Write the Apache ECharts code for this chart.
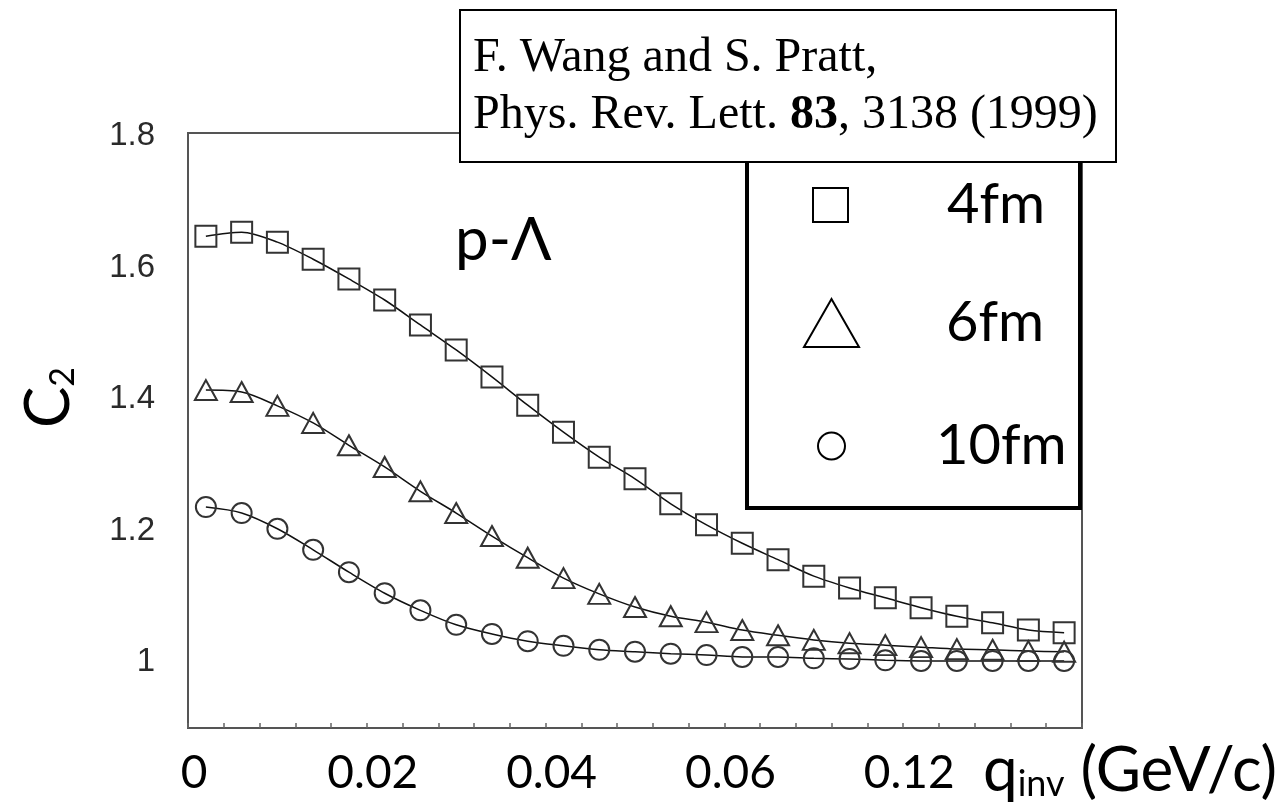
<!DOCTYPE html>
<html><head><meta charset="utf-8">
<script src="https://cdn.jsdelivr.net/npm/echarts@6/dist/echarts.min.js"></script>
<style>html,body{margin:0;padding:0;background:#fff}#c{width:1283px;height:804px}</style>
</head><body><div id="c"></div>
<script>
// q_inv (GeV/c) of each point
const qinv = [0.0025,0.0075,0.0125,0.0175,0.0225,0.0275,0.0325,0.0375,0.0425,0.0475,0.0525,0.0575,0.0625,0.0675,0.0725,0.0775,0.0825,0.0875,0.0925,0.0975,0.1025,0.1075,0.1125,0.1175,0.1225];
// C2 values
const c2_4fm  = [1.648,1.654,1.639,1.613,1.583,1.551,1.513,1.475,1.434,1.391,1.350,1.312,1.279,1.241,1.209,1.181,1.156,1.131,1.113,1.098,1.083,1.070,1.060,1.049,1.045];
const c2_6fm  = [1.414,1.411,1.390,1.364,1.330,1.297,1.260,1.227,1.192,1.159,1.128,1.104,1.084,1.070,1.061,1.049,1.041,1.034,1.029,1.026,1.023,1.020,1.019,1.017,1.016];
const c2_10fm = [1.236,1.227,1.203,1.171,1.137,1.105,1.079,1.057,1.043,1.032,1.025,1.019,1.016,1.013,1.011,1.008,1.008,1.006,1.005,1.003,1.002,1.002,1.002,1.002,1.002];
const seriesNames = ['4fm','6fm','10fm'];
const yTickValues = [1, 1.2, 1.4, 1.6, 1.8];
const xTickLabels = ['0','0.02','0.04','0.06','0.12'];
const xTickValues = [0, 0.025, 0.05, 0.075, 0.1];

const pairs = arr => qinv.map((x, i) => [x, arr[i]]);
const GILL = 'Lato';
const symStyle = {color: 'transparent', borderColor: '#333', borderWidth: 2};
const lineSt = {color: '#111', width: 1.5};

const chart = echarts.init(document.getElementById('c'), null, {renderer: 'canvas'});
chart.setOption({
  backgroundColor: '#fff',
  animation: false,
  grid: {left: 188, right: 201, top: 133, bottom: 76, show: true, borderColor: '#555', borderWidth: 2, backgroundColor: 'transparent'},
  title: {
    text: 'F. Wang and S. Pratt,\nPhys. Rev. Lett. {b|83}, 3138 (1999)',
    left: 460, top: 10,
    padding: [20, 18, 18, 13],
    borderColor: '#000', borderWidth: 2, backgroundColor: '#fff',
    z: 10,
    textStyle: {fontFamily: 'Liberation Serif', fontSize: 48, fontWeight: 'normal', color: '#000', lineHeight: 57,
      rich: {b: {fontFamily: 'Liberation Serif', fontSize: 48, fontWeight: 'bold', color: '#000', lineHeight: 57}}}
  },
  xAxis: {
    type: 'value', min: 0, max: 0.125, interval: 0.005,
    axisLine: {show: false}, splitLine: {show: false},
    axisTick: {show: true, inside: true, length: 5, lineStyle: {color: '#666', width: 1.5}},
    axisLabel: {
      customValues: xTickValues,
      formatter: v => { const i = xTickValues.findIndex(t => Math.abs(t - v) < 1e-9); return i >= 0 ? xTickLabels[i] : ''; },
      margin: 22, fontFamily: GILL, fontSize: 46, color: '#000', padding: [0, 0, 0, 12]
    },
    name: '{a|q}{s|inv}{a| (GeV/c)}',
    nameLocation: 'end', nameGap: 195,
    nameTextStyle: {align: 'right', verticalAlign: 'middle', padding: [80, 0, 0, 0],
      rich: {a: {fontFamily: GILL, fontSize: 62, color: '#000', lineHeight: 68, verticalAlign: 'bottom'},
             s: {fontFamily: GILL, fontSize: 36, color: '#000', lineHeight: 68, verticalAlign: 'bottom'}}}
  },
  yAxis: {
    type: 'value', min: 0.9, max: 1.805, interval: 0.1,
    axisLine: {show: false}, splitLine: {show: false}, axisTick: {show: false},
    axisLabel: {customValues: yTickValues, formatter: v => String(v), margin: 33,
      fontFamily: 'Liberation Sans', fontSize: 33, color: '#2a2a2a'},
    name: '{c|C}{s|2}',
    nameLocation: 'middle', nameRotate: 90, nameGap: 108,
    nameTextStyle: {padding: [0, 0, 0, 66],
      rich: {c: {fontFamily: GILL, fontSize: 62, color: '#000', lineHeight: 70, verticalAlign: 'bottom'},
             s: {fontFamily: GILL, fontSize: 34, color: '#000', lineHeight: 70, verticalAlign: 'bottom'}}}
  },
  legend: [
    {data: [{name: seriesNames[0], icon: 'rect', itemStyle: {color: '#fff', borderColor: '#000', borderWidth: 2}}],
     left: 812, top: 175, itemWidth: 35, itemHeight: 34, padding: 0, selectedMode: false, z: 12,
     textStyle: {fontFamily: GILL, fontSize: 56, color: '#000', lineHeight: 60, padding: [0, 0, 0, 94]}},
    {data: [{name: seriesNames[1], icon: 'triangle', itemStyle: {color: '#fff', borderColor: '#000', borderWidth: 2}}],
     left: 803, top: 293, itemWidth: 55, itemHeight: 48, padding: 0, selectedMode: false, symbolKeepAspect: false, z: 12,
     textStyle: {fontFamily: GILL, fontSize: 56, color: '#000', lineHeight: 60, padding: [0, 0, 0, 82]}},
    {data: [{name: seriesNames[2], icon: 'circle', itemStyle: {color: '#fff', borderColor: '#000', borderWidth: 2}}],
     left: 817, top: 416, itemWidth: 27, itemHeight: 27, padding: 0, selectedMode: false, z: 12,
     textStyle: {fontFamily: GILL, fontSize: 56, color: '#000', lineHeight: 60, padding: [0, 0, 0, 86]}}
  ],
  graphic: [
    {type: 'rect', z: 8, shape: {x: 747, y: 100, width: 333, height: 408},
     style: {fill: '#fff', stroke: '#000', lineWidth: 4}},
    {type: 'text', z: 8, x: 455, y: 241,
     style: {text: 'p-Λ', fontFamily: GILL, fontSize: 60, fill: '#000', verticalAlign: 'middle', align: 'left'}}
  ],
  series: [
    {type: 'line', name: seriesNames[0], data: pairs(c2_4fm), smooth: 0.3, symbol: 'rect', symbolSize: 21,
     itemStyle: symStyle, lineStyle: lineSt, z: 3},
    {type: 'line', name: seriesNames[1], data: pairs(c2_6fm), smooth: 0.3, symbol: 'triangle', symbolSize: [22, 20],
     itemStyle: symStyle, lineStyle: lineSt, z: 3},
    {type: 'line', name: seriesNames[2], data: pairs(c2_10fm), smooth: 0.3, symbol: 'circle', symbolSize: 20,
     itemStyle: symStyle, lineStyle: lineSt, z: 3}
  ]
});
</script></body></html>
